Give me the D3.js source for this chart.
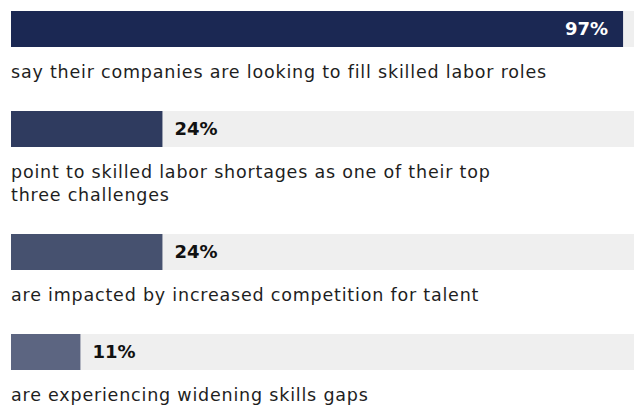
<!DOCTYPE html>
<html>
<head>
<meta charset="utf-8">
<script src="https://cdn.jsdelivr.net/npm/d3@7"></script>
<style>
  html, body { margin: 0; padding: 0; background: #ffffff; }
  svg { display: block; }
</style>
</head>
<body>
<div id="chart"></div>
<script>
// Survey results: share of respondents per statement
const values = [97, 24, 24, 11];
const valueLabels = ["97%", "24%", "24%", "11%"];
const descriptions = [
  ["say their companies are looking to fill skilled labor roles"],
  ["point to skilled labor shortages as one of their top", "three challenges"],
  ["are impacted by increased competition for talent"],
  ["are experiencing widening skills gaps"]
];
const barColors = ["#1b2853", "#2f3b5f", "#46516f", "#5c6581"];

const width = 634, height = 405;
const left = 11;
const barH = 36;
const blockStep = 100;   // bar + one line of description + gap
const lineH = 23;        // extra height for each additional description line
const textFont = "'DejaVu Sans', Verdana, sans-serif";

const svg = d3.select("#chart").append("svg")
  .attr("width", width)
  .attr("height", height);

const x = d3.scaleLinear().domain([0, 100]).range([left, left + 631]);

// vertical position of each block, accounting for wrapped descriptions
const tops = [];
let yPos = 11;
descriptions.forEach((lines) => {
  tops.push(yPos);
  yPos += blockStep + lineH * (lines.length - 1);
});

const rows = values.map((v, i) => ({
  value: v, label: valueLabels[i], lines: descriptions[i], color: barColors[i], top: tops[i]
}));

const g = svg.selectAll("g.row").data(rows).join("g")
  .attr("class", "row")
  .attr("transform", d => `translate(0,${d.top})`);

// background track
g.append("rect")
  .attr("x", x(0))
  .attr("y", 0)
  .attr("width", x(100) - x(0))
  .attr("height", barH)
  .attr("fill", "#efefef");

// value bar
g.append("rect")
  .attr("x", x(0))
  .attr("y", 0)
  .attr("width", d => x(d.value) - x(0))
  .attr("height", barH)
  .attr("fill", d => d.color);

// value label: inside the bar when it is long, after it otherwise
g.append("text")
  .attr("x", d => d.value > 50 ? x(d.value) - 15 : x(d.value) + 12)
  .attr("y", barH / 2)
  .attr("dy", "0.36em")
  .attr("text-anchor", d => d.value > 50 ? "end" : "start")
  .attr("fill", d => d.value > 50 ? "#ffffff" : "#111111")
  .style("font-family", textFont)
  .style("font-weight", 700)
  .style("font-size", "18px")
  .text(d => d.label);

// description text under each bar
g.append("text")
  .attr("x", x(0))
  .attr("y", barH + 31)
  .attr("fill", "#1e1e1e")
  .style("font-family", textFont)
  .style("font-size", "17.5px")
  .style("letter-spacing", "0.8px")
  .selectAll("tspan")
  .data(d => d.lines)
  .join("tspan")
  .attr("x", x(0))
  .attr("dy", (d, i) => i === 0 ? 0 : lineH)
  .text(d => d);
</script>
</body>
</html>
